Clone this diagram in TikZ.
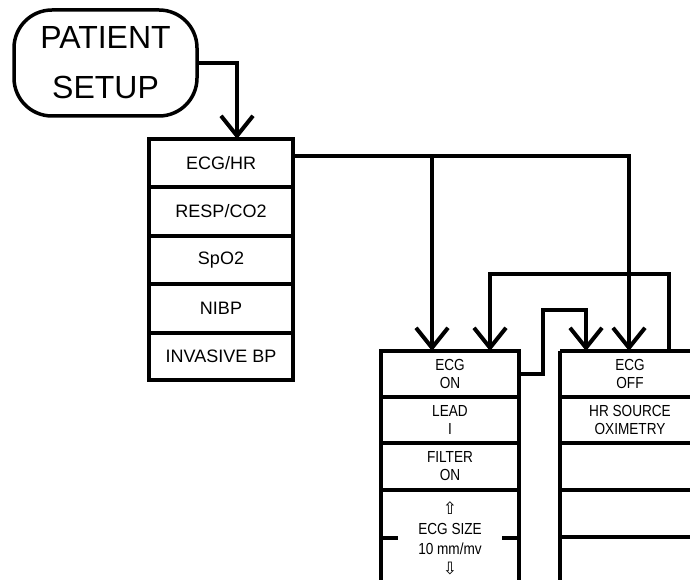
\documentclass[tikz,border=0pt]{standalone}
\usepackage{fontspec}
\setmainfont{Liberation Sans}
\newfontfamily\narrowfont[FakeStretch=0.85]{Liberation Sans}
\newfontfamily\symbfont{DejaVu Sans}
\usetikzlibrary{arrows.meta}
\begin{document}
\begin{tikzpicture}[x=1pt,y=-1pt,
  line width=4pt,
  cell/.style={draw, line width=4pt, anchor=north west, inner sep=0pt, outer sep=0pt, align=center},
  mcell/.style={cell, minimum width=144pt, font=\fontsize{18}{20}\selectfont},
  scell/.style={cell, minimum width=138pt, font=\narrowfont\fontsize{16}{18}\selectfont},
  rcell/.style={anchor=north west, inner sep=0pt, outer sep=0pt, align=center, minimum width=140pt,
    font=\narrowfont\fontsize{16}{18}\selectfont},
  open/.style={line width=4pt},
  arr/.style={-{Straight Barb[length=20pt,width=32pt]}},
  title/.style={draw, line width=3.5pt, rounded corners=38pt, anchor=north west, inner sep=0pt, outer sep=0pt,
    minimum width=183pt, minimum height=106pt, align=center, font=\fontsize{32}{50}\selectfont}]
\useasboundingbox (0,0) rectangle (690,580);
% title
\node[title] (ps) at (14,10) {PATIENT\\SETUP};
% main menu
\node[mcell, minimum height=48pt] (ecghr) at (149,139) {ECG/HR};
\node[mcell, minimum height=49pt] (resp) at (149,187) {RESP/CO2};
\node[mcell, minimum height=48pt] (spo2) at (149,236) {SpO2};
\node[mcell, minimum height=49pt] (nibp) at (149,284) {NIBP};
\node[mcell, minimum height=47pt] (ibp) at (149,333) {INVASIVE BP};
% left submenu
\node[scell, minimum height=46pt] (ecgon) at (381,351) {ECG\\ON};
\node[scell, minimum height=46pt] (lead) at (381,397) {LEAD\\I};
\node[scell, minimum height=47pt] (filter) at (381,443) {FILTER\\ON};
\node[anchor=north west, inner sep=0pt, outer sep=0pt, align=center, minimum width=138pt, minimum height=96pt,
  font=\narrowfont\fontsize{16}{20}\selectfont] (ecgsize) at (381,490)
  {{\symbfont\fontsize{17}{20}\selectfont ⇧}\\ECG SIZE\\10 mm/mv\\{\symbfont\fontsize{17}{20}\selectfont ⇩}};
\draw[open] (ecgsize.north west |- 0,580) -- (ecgsize.north west) -- (ecgsize.north east) -- (ecgsize.north east |- 0,580);
\draw[open] (ecgsize.west) -- ++(17,0);
\draw[open] (ecgsize.east) -- ++(-17,0);
% right submenu (its right side runs past the picture's edge)
\node[rcell, minimum height=46pt] (ecgoff) at (560,351) {ECG\\OFF};
\node[rcell, minimum height=46pt] (hrsrc) at (560,397) {HR SOURCE\\OXIMETRY};
\node[rcell, minimum height=47pt] (r3) at (560,443) {};
\node[rcell, minimum height=47pt] (r4) at (560,490) {};
\coordinate (rbot) at (560,580);
\foreach \c in {ecgoff,hrsrc,r3,r4}
  \draw[open] (\c.north west) -- (\c.north west -| 690,0);
\draw[open] (r4.south west) -- (r4.south west -| 690,0);
\draw[open] (ecgoff.north west) -- (rbot);
% connectors
\draw[arr] (ps.east) -| ([xshift=16pt]ecghr.north);
\draw[arr] ([yshift=7pt]ecghr.east) -| ([xshift=69pt]ecgoff.north west);
\draw[arr] ([yshift=7pt]ecghr.east) -| ([xshift=51pt]ecgon.north west);
\draw[arr] (ecgon.east) -| (543,310) -| ([xshift=26pt]ecgoff.north west);
\draw[arr] ([xshift=109pt]ecgoff.north west) -- ++(0,-77) -| ([xshift=109pt]ecgon.north west);
\end{tikzpicture}
\end{document}
